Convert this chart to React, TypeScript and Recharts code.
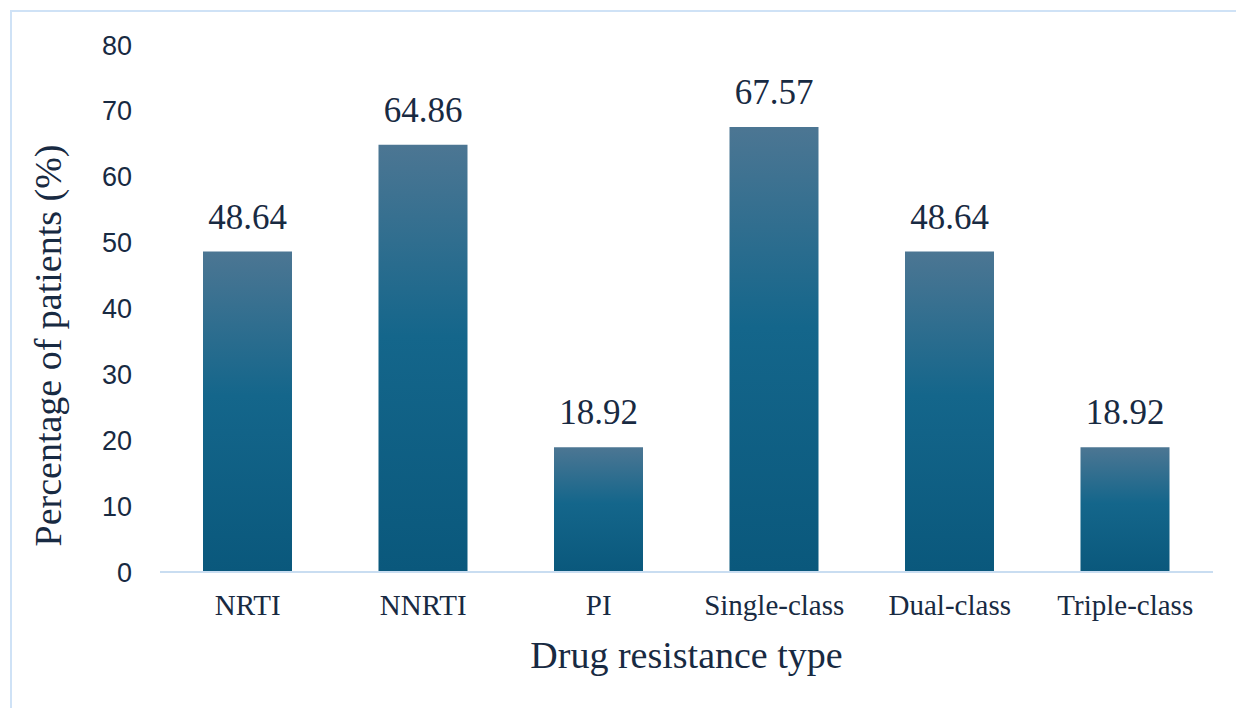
import { BarChart, Bar, XAxis, YAxis, LabelList } from "recharts";

const categories = ["NRTI", "NNRTI", "PI", "Single-class", "Dual-class", "Triple-class"];
const percentages = [48.64, 64.86, 18.92, 67.57, 48.64, 18.92];
const yTicks = [0, 10, 20, 30, 40, 50, 60, 70, 80];

const data = categories.map((name, i) => ({ name, value: percentages[i] }));

const textColor = "#182a42";
const serif = '"Liberation Serif", "Times New Roman", serif';
const sans = '"Liberation Sans", Arial, sans-serif';

const YTitle = (props: any) => {
  const vb = props.viewBox || {};
  const x = 61;
  const y = vb.y + vb.height / 2 + 37;
  return (
    <text
      x={x}
      y={y}
      transform={`rotate(-90, ${x}, ${y})`}
      textAnchor="middle"
      fill={textColor}
      fontSize={38}
      style={{ fontFamily: serif }}
    >
      Percentage of patients (%)
    </text>
  );
};

const XTitle = (props: any) => {
  const vb = props.viewBox || {};
  return (
    <text
      x={vb.x + vb.width / 2}
      y={668}
      textAnchor="middle"
      fill={textColor}
      fontSize={38}
      style={{ fontFamily: serif }}
    >
      Drug resistance type
    </text>
  );
};

const ValueLabel = (props: any) => {
  const { x, y, width, value } = props;
  return (
    <text
      x={x + width / 2}
      y={y - 23}
      textAnchor="middle"
      fill={textColor}
      fontSize={35}
      style={{ fontFamily: serif }}
    >
      {Number(value).toFixed(2)}
    </text>
  );
};

export default function App() {
  return (
    <div style={{ position: "absolute", left: 0, top: 0, width: 1236, height: 708, background: "#fff" }}>
      <div
        style={{
          position: "absolute",
          left: 10,
          top: 10,
          width: 1226,
          height: 698,
          borderLeft: "2px solid #cfe2f6",
          borderTop: "2px solid #cfe2f6",
          boxSizing: "border-box",
        }}
      />
      <BarChart
        width={1236}
        height={708}
        data={data}
        margin={{ top: 45, right: 23, left: 0, bottom: 0 }}
        barSize={89}
      >
        <defs>
          <linearGradient id="barFill" x1="0" y1="0" x2="0" y2="1">
            <stop offset="0%" stopColor="#4c7693" />
            <stop offset="45%" stopColor="#14668b" />
            <stop offset="100%" stopColor="#0a587c" />
          </linearGradient>
        </defs>
        <XAxis
          dataKey="name"
          height={136}
          tickLine={false}
          tickSize={0}
          tickMargin={22}
          axisLine={{ stroke: "#c9ddf1", strokeWidth: 2 }}
          tick={{ fill: textColor, fontSize: 29, fontFamily: serif }}
          interval={0}
          label={<XTitle />}
        />
        <YAxis
          width={160}
          domain={[0, 80]}
          ticks={yTicks}
          axisLine={false}
          tickLine={false}
          tickSize={0}
          tickMargin={28}
          tick={{ fill: textColor, fontSize: 27, fontFamily: sans }}
          label={<YTitle />}
        />
        <Bar dataKey="value" fill="url(#barFill)" isAnimationActive={false}>
          <LabelList dataKey="value" content={<ValueLabel />} />
        </Bar>
      </BarChart>
    </div>
  );
}
